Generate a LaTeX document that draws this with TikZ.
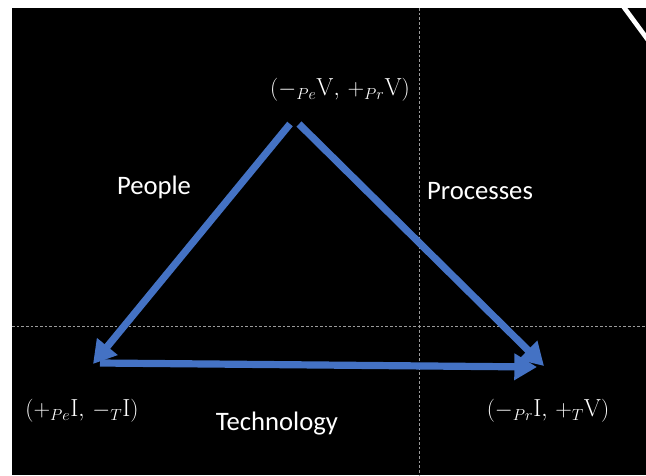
\documentclass[tikz,border=0pt]{standalone}
\usepackage{fontspec}
\newfontfamily\calibri{Carlito}
\usetikzlibrary{arrows.meta}
\definecolor{tvblue}{HTML}{4472C4}
\definecolor{tvgrid}{HTML}{9A9A9A}
\tikzset{
  tvpx/.style={x=0.75pt,y=-0.75pt},
  seta/.style={tvblue,line width=5.4pt,-{Triangle[length=17pt,width=19pt]}},
  grade/.style={tvgrid,line width=0.6pt,dash pattern=on 2pt off 1.5pt},
  rotulo/.style={text=white,font=\calibri\fontsize{20}{24}\selectfont,inner sep=0pt},
  estado/.style={text=white,font=\fontsize{18.5}{22}\selectfont,inner sep=0pt},
}
\begin{document}
\begin{tikzpicture}[tvpx]
  \useasboundingbox (0,0) rectangle (646,475);
  \fill[white] (0,0) rectangle (646,475);
  \fill[black] (12,8) rectangle (646,475);
  % sobra branca no canto
  \draw[white,line width=3.5pt] (623,6) -- (648,40);
  % linhas guia
  \draw[grade] (419,8) -- (419,475);
  \draw[grade] (12,326) -- (646,326);
  % vértices
  \coordinate (topoE) at (290,124);
  \coordinate (topoD) at (299,124);
  \coordinate (esq) at (93,364);
  \coordinate (esqB) at (100,363);
  \coordinate (dir) at (544,366);
  \coordinate (dirB) at (537,367);
  \draw[seta] (topoE) -- (esq);
  \draw[seta] (topoD) -- (dir);
  \draw[seta] (esqB) -- (dirB);
  % rótulos
  \node[estado] (vtopo) at (340,90) {$(-_{Pe}\mathrm{V},\,+_{Pr}\mathrm{V})$};
  \node[estado] (vesq) at (82,411) {$(+_{Pe}\mathrm{I},\,-_{T}\mathrm{I})$};
  \node[estado] (vdir) at (548,411) {$(-_{Pr}\mathrm{I},\,+_{T}\mathrm{V})$};
  \node[rotulo] (pessoas) at (154,187) {People};
  \node[rotulo] (processos) at (480,191) {Processes};
  \node[rotulo] (tecno) at (277,424) {Technology};
\end{tikzpicture}
\end{document}
